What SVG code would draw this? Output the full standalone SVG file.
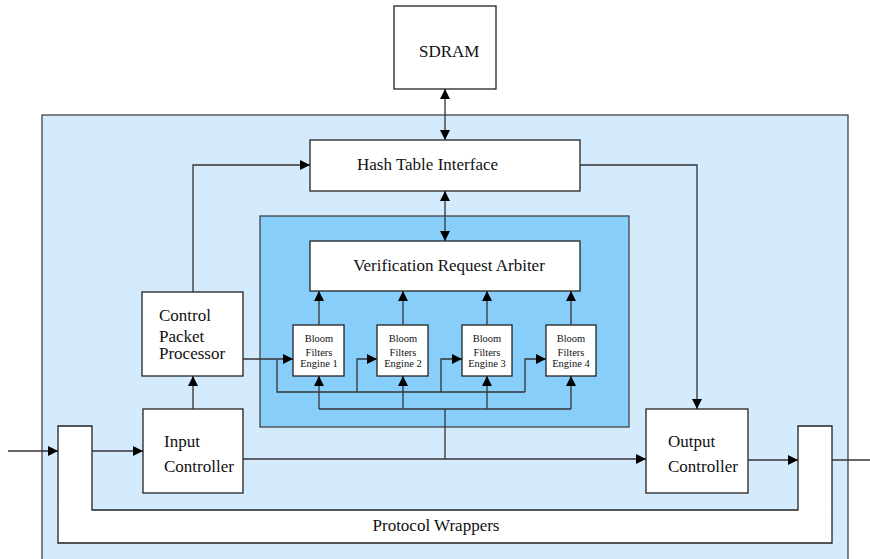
<svg xmlns="http://www.w3.org/2000/svg" width="870" height="559" viewBox="0 0 870 559">
<defs>
<marker id="ah" viewBox="0 0 10 10" refX="10" refY="5" markerWidth="10" markerHeight="10" markerUnits="userSpaceOnUse" orient="auto-start-reverse">
<path d="M0,0 L10,5 L0,10 z" fill="#000"/>
</marker>
<style>
.box{fill:#fff;stroke:#222;stroke-width:1.3}
.t{font-family:"Liberation Serif","Times New Roman",serif;fill:#111;font-size:17px}
.s{font-family:"Liberation Serif","Times New Roman",serif;fill:#111;font-size:10.5px;text-anchor:middle}
.c{fill:none;stroke:#333;stroke-width:1.3}
</style>
</defs>
<rect width="870" height="559" fill="#fff"/>
<g id="outer"><rect x="42" y="115" width="806" height="460" fill="#d4eafd" stroke="#444" stroke-width="1.3"/></g>
<g id="inner"><rect x="260" y="216" width="369" height="211" fill="#87cefa" stroke="#444" stroke-width="1.3"/></g>
<g id="sdram"><rect class="box" x="394" y="6" width="102" height="83"/><text class="t" x="419" y="57">SDRAM</text></g>
<g id="hash"><rect class="box" x="310" y="140" width="270" height="51"/><text class="t" x="357" y="170">Hash Table Interface</text></g>
<g id="arbiter"><rect class="box" x="310" y="241" width="270" height="50"/><text class="t" x="449" y="271" text-anchor="middle">Verification Request Arbiter</text></g>
<g id="bf1"><rect class="box" x="293" y="325" width="51" height="51"/><text class="s" x="319" y="342">Bloom</text><text class="s" x="319" y="356">Filters</text><text class="s" x="319" y="367">Engine 1</text></g>
<g id="bf2"><rect class="box" x="377" y="325" width="51" height="51"/><text class="s" x="403" y="342">Bloom</text><text class="s" x="403" y="356">Filters</text><text class="s" x="403" y="367">Engine 2</text></g>
<g id="bf3"><rect class="box" x="462" y="325" width="50" height="51"/><text class="s" x="487" y="342">Bloom</text><text class="s" x="487" y="356">Filters</text><text class="s" x="487" y="367">Engine 3</text></g>
<g id="bf4"><rect class="box" x="546" y="325" width="50" height="51"/><text class="s" x="571" y="342">Bloom</text><text class="s" x="571" y="356">Filters</text><text class="s" x="571" y="367">Engine 4</text></g>
<g id="cpp"><rect class="box" x="142" y="292" width="101" height="84"/><text class="t" x="159" y="321">Control</text><text class="t" x="159" y="342">Packet</text><text class="t" x="159" y="359">Processor</text></g>
<g id="input"><rect class="box" x="143" y="409" width="100" height="84"/><text class="t" x="164" y="447">Input</text><text class="t" x="164" y="472">Controller</text></g>
<g id="output"><rect class="box" x="646" y="409" width="102" height="84"/><text class="t" x="668" y="447">Output</text><text class="t" x="668" y="472">Controller</text></g>
<g id="wrappers"><path d="M58,426 H92 V510 H798 V426 H832 V543 H58 Z" fill="#fff" stroke="#222" stroke-width="1.3"/><text class="t" x="436" y="531" text-anchor="middle">Protocol Wrappers</text></g>
<g id="connectors">
<line class="c" x1="445" y1="89" x2="445" y2="140" marker-start="url(#ah)" marker-end="url(#ah)"/>
<line class="c" x1="445" y1="191" x2="445" y2="241" marker-start="url(#ah)" marker-end="url(#ah)"/>
<line class="c" x1="319" y1="325" x2="319" y2="291" marker-end="url(#ah)"/>
<line class="c" x1="403" y1="325" x2="403" y2="291" marker-end="url(#ah)"/>
<line class="c" x1="487" y1="325" x2="487" y2="291" marker-end="url(#ah)"/>
<line class="c" x1="571" y1="325" x2="571" y2="291" marker-end="url(#ah)"/>
<path class="c" d="M193,292 V165 H310" marker-end="url(#ah)"/>
<path class="c" d="M580,165 H697 V409" marker-end="url(#ah)"/>
<line class="c" x1="193" y1="409" x2="193" y2="376" marker-end="url(#ah)"/>
<path class="c" d="M243,359 H293" marker-end="url(#ah)"/>
<path class="c" d="M277,359 V392 H525"/>
<path class="c" d="M357,392 V359 H377" marker-end="url(#ah)"/>
<path class="c" d="M441,392 V359 H462" marker-end="url(#ah)"/>
<path class="c" d="M525,392 V359 H546" marker-end="url(#ah)"/>
<path class="c" d="M319,409 H571"/>
<line class="c" x1="319" y1="409" x2="319" y2="376" marker-end="url(#ah)"/>
<line class="c" x1="403" y1="409" x2="403" y2="376" marker-end="url(#ah)"/>
<line class="c" x1="487" y1="409" x2="487" y2="376" marker-end="url(#ah)"/>
<line class="c" x1="571" y1="409" x2="571" y2="376" marker-end="url(#ah)"/>
<line class="c" x1="445" y1="409" x2="445" y2="459"/>
<line class="c" x1="243" y1="459" x2="646" y2="459" marker-end="url(#ah)"/>
<line class="c" x1="8" y1="451" x2="58" y2="451" marker-end="url(#ah)"/>
<line class="c" x1="92" y1="451" x2="143" y2="451" marker-end="url(#ah)"/>
<line class="c" x1="748" y1="460" x2="798" y2="460" marker-end="url(#ah)"/>
<line class="c" x1="832" y1="460" x2="870" y2="460"/>
</g>
</svg>
